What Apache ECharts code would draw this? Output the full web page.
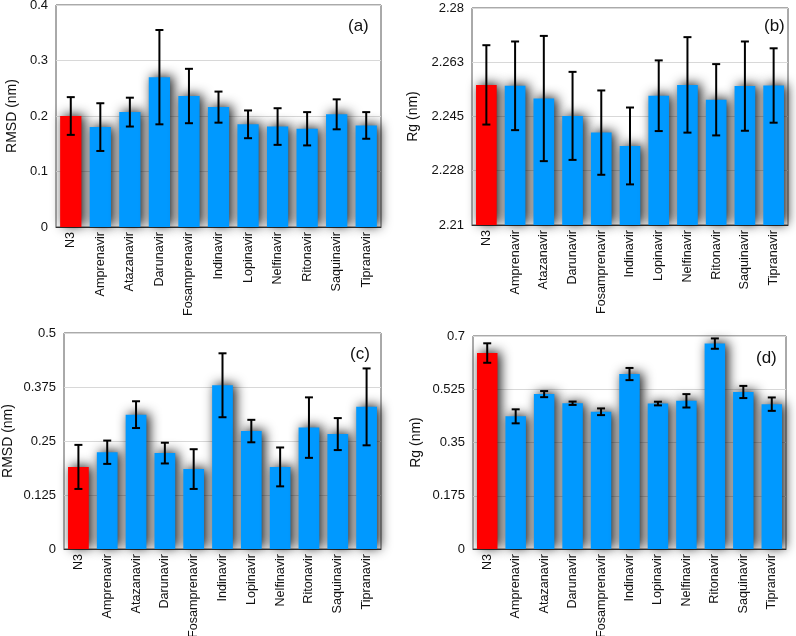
<!DOCTYPE html>
<html><head><meta charset="utf-8">
<script src="https://cdn.jsdelivr.net/npm/echarts@6/dist/echarts.min.js"></script>
<style>html,body{margin:0;padding:0;background:#fff}#c{width:796px;height:636px}</style>
</head><body><div id="c"></div>
<script>
const categories = ["N3","Amprenavir","Atazanavir","Darunavir","Fosamprenavir","Indinavir","Lopinavir","Nelfinavir","Ritonavir","Saquinavir","Tipranavir"];

const rmsdA = [0.200,0.180,0.207,0.270,0.236,0.216,0.185,0.181,0.177,0.203,0.183];
const rmsdAErr = [0.034,0.043,0.026,0.085,0.049,0.028,0.025,0.033,0.030,0.027,0.024];

const rgB = [2.2552,2.2549,2.2508,2.2452,2.2398,2.2355,2.2517,2.2552,2.2504,2.2548,2.2550];
const rgBErr = [0.0128,0.0143,0.0202,0.0142,0.0136,0.0124,0.0114,0.0154,0.0115,0.0144,0.0120];

const rmsdC = [0.190,0.224,0.311,0.222,0.185,0.379,0.273,0.190,0.281,0.266,0.329];
const rmsdCErr = [0.051,0.027,0.031,0.024,0.046,0.074,0.026,0.045,0.070,0.037,0.089];

const rgD = [0.644,0.436,0.509,0.479,0.451,0.575,0.478,0.487,0.675,0.516,0.476];
const rgDErr = [0.032,0.023,0.010,0.0055,0.011,0.020,0.006,0.022,0.017,0.020,0.022];

const panelLabels = ["(a)","(b)","(c)","(d)"];
const yNames = ["RMSD (nm)","Rg (nm)","RMSD (nm)","Rg (nm)"];
const yRanges = [[0,0.4,0.1],[2.21,2.28,0.0175],[0,0.5,0.125],[0,0.7,0.175]];
const values = [rmsdA, rgB, rmsdC, rgD];
const errs = [rmsdAErr, rgBErr, rmsdCErr, rgDErr];

const grids = [
  {left:56, top:5, right:415, bottom:409},
  {left:472, top:8, right:8, bottom:411},
  {left:64, top:333, right:415, bottom:87},
  {left:473, top:336, right:10, bottom:87}
];
const nameGaps = [37, 52, 49, 50];
const labelPos = [[348,18],[764,18],[350,346],[756,350]];

const FONT = 'Liberation Sans';
const fmt = v => String(Math.round(v*1000 + 1e-6)/1000);

const option = {
  animation:false,
  backgroundColor:'#fff',
  grid: grids.map(g => Object.assign({show:true, borderColor:'#555', borderWidth:1, backgroundColor:'#fff', containLabel:false, outerBoundsMode:'none'}, g)),
  xAxis: grids.map((g,i) => ({
    type:'category', gridIndex:i, data:categories,
    axisLine:{show:true, lineStyle:{color:'#333', width:1}},
    axisTick:{show:false},
    axisLabel:{rotate:90, interval:0, margin:5, fontSize:12.6, color:'#111', fontFamily:FONT}
  })),
  yAxis: grids.map((g,i) => ({
    type:'value', gridIndex:i, min:yRanges[i][0], max:yRanges[i][1], interval:yRanges[i][2],
    name:yNames[i], nameLocation:'middle', nameGap:nameGaps[i],
    nameTextStyle:{fontSize:14, color:'#111', fontFamily:FONT},
    axisLine:{show:false}, axisTick:{show:false},
    axisLabel:{fontSize:13, color:'#111', margin:8, formatter:fmt, fontFamily:FONT},
    splitLine:{show:true, lineStyle:{color:'#d8d8d8', width:1}}
  })),
  graphic: panelLabels.map((t,i) => ({
    type:'text', left:labelPos[i][0], top:labelPos[i][1],
    style:{text:t, fontSize:17, fill:'#111', fontFamily:FONT}
  })),
  series: []
};

values.forEach((vals,i) => {
  option.series.push({
    type:'bar', xAxisIndex:i, yAxisIndex:i, barCategoryGap:'28%',
    data: vals.map((v,k) => ({value:v, itemStyle:{
      color: k===0 ? '#ff0000' : '#0099ff',
      shadowColor:'rgba(0,0,0,0.9)', shadowBlur:12, shadowOffsetX:3, shadowOffsetY:-1
    }}))
  });
  option.series.push({
    type:'custom', xAxisIndex:i, yAxisIndex:i, z:10,
    data: vals.map((v,k) => [k, v - errs[i][k], v + errs[i][k]]),
    renderItem: function(params, api){
      const lo = api.coord([api.value(0), api.value(1)]);
      const hi = api.coord([api.value(0), api.value(2)]);
      const hw = 4;
      const st = {stroke:'#000', lineWidth:2};
      return {type:'group', children:[
        {type:'line', shape:{x1:lo[0], y1:lo[1], x2:hi[0], y2:hi[1]}, style:st},
        {type:'line', shape:{x1:lo[0]-hw, y1:lo[1], x2:lo[0]+hw, y2:lo[1]}, style:st},
        {type:'line', shape:{x1:hi[0]-hw, y1:hi[1], x2:hi[0]+hw, y2:hi[1]}, style:st}
      ]};
    }
  });
});

const chart = echarts.init(document.getElementById('c'), null, {renderer:'canvas'});
chart.setOption(option);
</script></body></html>
